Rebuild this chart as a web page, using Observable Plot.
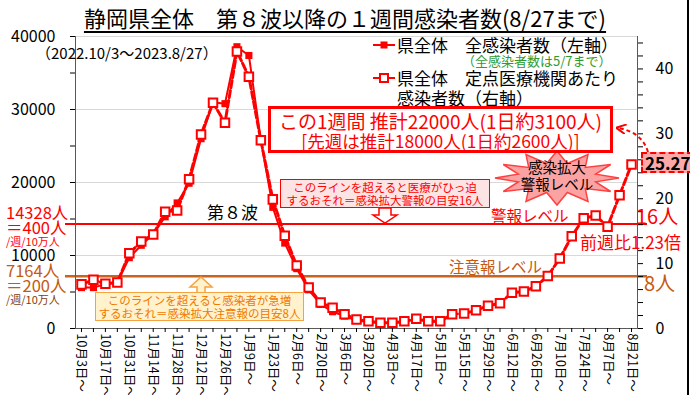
<!DOCTYPE html>
<html><head><meta charset="utf-8">
<script src="https://cdn.jsdelivr.net/npm/d3@7"></script>
<script src="https://cdn.jsdelivr.net/npm/@observablehq/plot@0.6"></script>
<style>
body{margin:0;background:#fff;}
#wrap{position:relative;width:690px;height:395px;overflow:hidden;font-family:"Noto Sans CJK JP",sans-serif;background:#fff;}
#wrap > svg{position:absolute;left:0;top:0;}
.t{position:absolute;white-space:nowrap;}
</style></head><body><div id="wrap"></div>
<script>
// ---- data ----
const weeks = ["10/3","10/10","10/17","10/24","10/31","11/7","11/14","11/21","11/28","12/5","12/12","12/19","12/26",
  "1/2","1/9","1/16","1/23","1/30","2/6","2/13","2/20","2/27","3/6","3/13","3/20","3/27","4/3","4/10","4/17","4/24",
  "5/1","5/8","5/15","5/22","5/29","6/5","6/12","6/19","6/26","7/3","7/10","7/17","7/24","7/31","8/7","8/14","8/21"];
const labelWeeks = weeks.filter((d, i) => i % 2 === 0);
// 県全体 全感染者数（左軸） — through week of 5/1 (to 5/7)
const totalCases = [5600,5600,6100,6300,9700,11400,12900,15300,17200,19900,26000,31000,30800,38600,37400,25800,
  16600,11700,8200,5300,3300,2300,1700,1100,900,750,750,900,1300,950,900];
// 県全体 定点医療機関あたり感染者数（右軸）
const perFacility = [6.8,7.5,6.9,7.1,11.6,13.4,14.5,18.0,18.2,23.0,29.9,34.8,31.7,42.7,38.8,29.0,19.9,14.3,9.7,6.3,
  4.0,3.2,2.2,1.4,1.1,0.9,0.9,1.1,1.5,1.1,1.1,2.2,2.3,2.8,3.5,3.9,5.5,5.7,6.5,8.1,10.8,14.2,17.0,17.4,15.7,20.55,25.27];
const alertTotal = 14328, cautionTotal = 7164;
const leftMax = 40000, rightMax = 45;
const leftTicks = d3.range(0, 40001, 5000);
const leftLabels = [0, 10000, 20000, 30000, 40000];
const rightTicks = d3.range(0, 45, 2);
const rightLabels = [0, 10, 20, 30, 40];
const k = leftMax / rightMax;

const red = "#FF0000", orange = "#C8641E";
const totalData = totalCases.map((v, i) => ({week: weeks[i], value: v}));
const rateData = perFacility.map((v, i) => ({week: weeks[i], value: v}));
const fmtWeek = d => { const [m, dd] = d.split("/"); return `${m}月${dd}日～`; };

const chart = Plot.plot({
  width: 690, height: 395, marginTop: 36, marginBottom: 67, marginLeft: 75, marginRight: 53,
  style: {fontFamily: '"Noto Sans CJK JP", sans-serif', fontSize: "16px", background: "transparent", color: "#000", overflow: "visible"},
  x: {type: "point", domain: weeks, padding: 0.5},
  y: {domain: [0, leftMax]},
  marks: [
    Plot.gridY(leftLabels.slice(1), {stroke: "#D9D9D9", strokeOpacity: 1}),
    Plot.ruleY([cautionTotal], {stroke: orange, strokeWidth: 2.5, insetLeft: -10, insetRight: -10}),
    Plot.ruleY([alertTotal], {stroke: red, strokeWidth: 2, insetLeft: -10, insetRight: -10}),
    Plot.frame({anchor: "left", stroke: "#595959"}),
    Plot.frame({anchor: "right", stroke: "#595959"}),
    Plot.frame({anchor: "bottom", stroke: "#595959"}),
    Plot.axisY({ticks: leftTicks, tickFormat: d => leftLabels.includes(d) ? String(d) : "", tickSize: 5, tickPadding: 15, fontSize: 16, label: null}),
    Plot.axisY({anchor: "right", ticks: rightTicks.map(v => v * k),
      tickFormat: d => { const v = Math.round(d / k); return rightLabels.includes(v) ? String(v) : ""; },
      tickSize: 5, tickPadding: 13, fontSize: 16, label: null}),
    Plot.axisX({ticks: weeks, tickFormat: () => "", tickSize: 4, label: null}),
    Plot.axisX({ticks: labelWeeks, tickFormat: fmtWeek, tickRotate: 90, tickSize: 0, tickPadding: 5, fontSize: 12.5, label: null}),
    Plot.line(totalData, {x: "week", y: "value", stroke: red, strokeWidth: 2}),
    Plot.dot(totalData, {x: "week", y: "value", symbol: "square", r: 4, fill: red, stroke: "none"}),
    Plot.line(rateData, {x: "week", y: d => d.value * k, stroke: red, strokeWidth: 3, strokeDasharray: "7,3"}),
    Plot.dot(rateData, {x: "week", y: d => d.value * k, symbol: "square", r: 4.8, fill: "white", stroke: red, strokeWidth: 2})
  ]
});
const wrap = document.getElementById("wrap");
wrap.appendChild(chart);

// ---- overlay decorations ----
const ov = d3.select(wrap).append("svg").attr("width", 690).attr("height", 395)
  .style("position", "absolute").style("left", 0).style("top", 0).style("pointer-events", "none");
// star
const cx = 557, cy = 178, n = 12;
const pts = d3.range(2 * n).map(j => {
  const a = j * Math.PI / n - Math.PI / 2;
  const rx = j % 2 ? 40 : 62, ry = j % 2 ? 15 : 27;
  return [cx + rx * Math.cos(a), cy + ry * Math.sin(a)];
});
ov.append("polygon").attr("points", pts.map(p => p.join(",")).join(" ")).attr("fill", "#FBA3A3").attr("stroke", "#FF4040").attr("stroke-width", 1.5);
// down arrow (pink box -> alert line)
ov.append("polygon").attr("points", "379,208 391,208 391,215 397,215 385,223 373,215 379,215")
  .attr("fill", "#fff").attr("stroke", red).attr("stroke-width", 1.5);
// up arrow (orange box -> caution line)
ov.append("polygon").attr("points", "197,293 205,293 205,287 212,287 201,277 190,287 197,287")
  .attr("fill", "#FFF2CC").attr("stroke", "#F4A340").attr("stroke-width", 1.5);
// dashed curved arrow from 25.27 to box
ov.append("defs").append("marker").attr("id", "ah").attr("viewBox", "0 0 10 10").attr("refX", 8).attr("refY", 5)
  .attr("markerWidth", 5).attr("markerHeight", 5).attr("orient", "auto")
  .append("path").attr("d", "M0,0 L10,5 L0,10").attr("fill", "none").attr("stroke", red).attr("stroke-width", 2);
ov.append("path").attr("d", "M648,152 Q642,132 618,128").attr("fill", "none").attr("stroke", red)
  .attr("stroke-width", 2).attr("stroke-dasharray", "4,3").attr("marker-end", "url(#ah)");
// legend markers
ov.append("line").attr("x1", 373).attr("x2", 395).attr("y1", 45).attr("y2", 45).attr("stroke", red).attr("stroke-width", 2);
ov.append("rect").attr("x", 380.5).attr("y", 41.5).attr("width", 7).attr("height", 7).attr("fill", red);
ov.append("line").attr("x1", 373).attr("x2", 395).attr("y1", 78).attr("y2", 78).attr("stroke", red).attr("stroke-width", 2);
ov.append("rect").attr("x", 380).attr("y", 74).attr("width", 8).attr("height", 8).attr("fill", "#fff").attr("stroke", red).attr("stroke-width", 2);
// right border
ov.append("line").attr("x1", 688).attr("x2", 688).attr("y1", 0).attr("y2", 395).attr("stroke", "#000").attr("stroke-width", 2);

function t(text, x, yc, size, color, extra = {}) {
  const d = document.createElement("div");
  d.className = "t";
  d.textContent = text;
  Object.assign(d.style, {left: x + "px", top: (yc - size * 0.45) + "px", fontSize: size + "px", lineHeight: (size * 0.9) + "px", color}, extra);
  wrap.appendChild(d);
  return d;
}
function boxDiv(lines, style) {
  const d = document.createElement("div");
  d.className = "t";
  Object.assign(d.style, {boxSizing: "border-box", textAlign: "center"}, style);
  lines.forEach(l => { const s = document.createElement("div"); s.textContent = l.text; Object.assign(s.style, l.style || {}); d.appendChild(s); });
  wrap.appendChild(d);
  return d;
}

// title
t("静岡県全体　第８波以降の１週間感染者数(8/27まで)", 0, 17, 22, "#000",
  {width: "690px", textAlign: "center", textDecoration: "underline", textUnderlineOffset: "4px", textDecorationThickness: "1.5px", lineHeight: "26px", top: "4px"});
t("（2022.10/3～2023.8/27）", 36, 53, 15, "#000");
// legend
t("県全体　全感染者数（左軸）", 397, 45, 17, "#000");
t("（全感染者数は5/7まで）", 462, 61, 13, "#2E9B2E");
t("県全体　定点医療機関あたり", 397, 78, 17, "#000");
t("感染者数（右軸）", 397, 98, 17, "#000", {background: "#fff", paddingRight: "4px"});
// left annotations
t("14328人", 6, 212, 16.5, red);
t("＝400人", 6, 227.5, 16.5, red);
t("/週/10万人", 6, 241.5, 11, red);
t("7164人", 6, 270, 16.5, "#C55A11");
t("＝200人", 6, 285.5, 16.5, "#C55A11");
t("/週/10万人", 6, 300, 11, "#843C0C");
t("第８波", 207, 212, 17, "#000");
t("警報レベル", 491, 216, 15.5, red);
t("16人", 636, 216, 20, red);
t("前週比1.23倍", 580, 242, 17, red);
t("注意報レベル", 449, 267, 15.5, "#C55A11");
t("8人", 644, 283, 20, "#C55A11");
// star text
t("感染拡大", cx, 167, 14.5, "#000", {transform: "translateX(-50%)"});
t("警報レベル", cx, 184, 14.5, "#000", {transform: "translateX(-50%)"});
// red box
boxDiv([
  {text: "この1週間 推計22000人(1日約3100人)", style: {fontSize: "19px", lineHeight: "21px"}},
  {text: "[先週は推計18000人(1日約2600人)]", style: {fontSize: "17.5px", lineHeight: "20px"}}
], {left: "268px", top: "106px", width: "345px", height: "47px", border: "3px solid " + red, background: "#fff", color: red, paddingTop: "1px"});
// pink box
boxDiv([
  {text: "このラインを超えると医療がひっ迫", style: {fontSize: "11.5px", lineHeight: "13px"}},
  {text: "するおそれ＝感染拡大警報の目安16人", style: {fontSize: "11.5px", lineHeight: "13px"}}
], {left: "280px", top: "179px", width: "210px", height: "29px", border: "1.5px solid " + red, background: "#FDE4E4", color: red, paddingTop: "1px"});
// orange box
boxDiv([
  {text: "このラインを超えると感染者が急増", style: {fontSize: "11.5px", lineHeight: "13px"}},
  {text: "するおそれ＝感染拡大注意報の目安8人", style: {fontSize: "11.5px", lineHeight: "13px"}}
], {left: "95px", top: "292px", width: "209px", height: "29px", border: "1.5px solid #F4A340", background: "#FFF2CC", color: "#F07800", paddingTop: "1px"});
// 25.27 box
boxDiv([{text: "25.27", style: {fontSize: "17px", lineHeight: "17px", fontWeight: "bold"}}],
  {left: "641px", top: "152px", width: "52px", height: "21px", border: "2px dashed " + red, background: "#FFA8A8", color: "#000", textAlign: "left", paddingLeft: "2px"});
</script></body></html>
